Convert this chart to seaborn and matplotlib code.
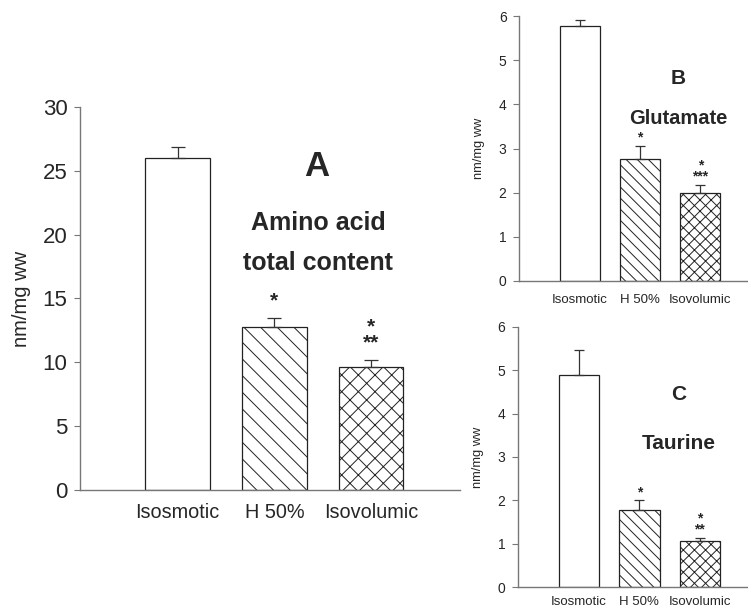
import matplotlib
matplotlib.use("Agg")
import matplotlib.pyplot as plt
import seaborn as sns
import pandas as pd

groups = ["Isosmotic", "H 50%", "Isovolumic"]

total_mean = [26.0, 12.8, 9.65]
total_err = [0.9, 0.7, 0.55]
total_stars = ["", "*", "*\n**"]

glu_mean = [5.77, 2.77, 2.0]
glu_err = [0.14, 0.29, 0.18]
glu_stars = ["", "*", "*\n***"]

tau_mean = [4.89, 1.77, 1.07]
tau_err = [0.59, 0.23, 0.07]
tau_stars = ["", "*", "*\n**"]

sns.set_style("white")
plt.rcParams["font.family"] = ["Liberation Sans", "DejaVu Sans"]
plt.rcParams["hatch.linewidth"] = 0.7
plt.rcParams["hatch.color"] = "#333333"

fig = plt.figure(figsize=(7.48, 6.09), dpi=100)
axA = fig.add_axes([0.107, 0.1954, 0.508, 0.629])
axB = fig.add_axes([0.694, 0.5386, 0.305, 0.435])
axC = fig.add_axes([0.6925, 0.0361, 0.306, 0.427])


def panel(ax, means, errs, stars, ymax, hatches, tick_fs, xtick_fs, lab_fs,
          star_fs, star_gap, cap, xright, xpad=6):
    df = pd.DataFrame({"group": groups, "value": means})
    sns.barplot(data=df, x="group", y="value", color="white", width=0.67,
                edgecolor="#222222", linewidth=0.9, ax=ax)
    for patch, h in zip(ax.patches, hatches):
        patch.set_hatch(h)
    xs = [p.get_x() + p.get_width() / 2 for p in ax.patches]
    ax.errorbar(xs, means, yerr=[[0] * 3, errs], fmt="none", ecolor="#333333",
                elinewidth=0.9, capsize=cap, capthick=0.9)
    for x, m, e, s in zip(xs, means, errs, stars):
        if s:
            ax.text(x, m + e + star_gap, s, ha="center", va="bottom",
                    fontsize=star_fs, fontweight="bold", linespacing=0.75)
    ax.set_xlim(-1.01, xright)
    ax.set_ylim(0, ymax)
    ax.set_xlabel("")
    ax.set_ylabel("nm/mg ww", fontsize=lab_fs)
    sns.despine(ax=ax)
    for sp in ("left", "bottom"):
        ax.spines[sp].set_color("#777777")
        ax.spines[sp].set_linewidth(1.0)
    ax.tick_params(axis="y", direction="out", left=True, length=4,
                   color="#777777", labelsize=tick_fs, pad=5)
    ax.tick_params(axis="x", bottom=False, labelsize=xtick_fs, pad=xpad)


panel(axA, total_mean, total_err, total_stars, 30, ["", "\\\\", "xx"],
      16, 14.3, 14.5, 15, 0.6, 5, 2.92)
axA.set_yticks(range(0, 31, 5))
axA.yaxis.set_label_coords(-0.128, 0.5)
axA.text(1.44, 25.3, "A", ha="center", va="center", fontsize=25, fontweight="bold")
axA.text(1.45, 20.9, "Amino acid", ha="center", va="center", fontsize=18, fontweight="bold")
axA.text(1.45, 17.8, "total content", ha="center", va="center", fontsize=18, fontweight="bold")

panel(axB, glu_mean, glu_err, glu_stars, 6, ["", "\\\\\\", "xxx"],
      10, 9.5, 9.3, 10, 0.03, 3.5, 2.78)
axB.set_yticks(range(0, 7))
axB.yaxis.set_label_coords(-0.15, 0.5)
axB.text(1.63, 4.58, "B", ha="center", va="center", fontsize=15, fontweight="bold")
axB.text(1.63, 3.68, "Glutamate", ha="center", va="center", fontsize=14.5, fontweight="bold")

panel(axC, tau_mean, tau_err, tau_stars, 6, ["", "\\\\\\", "xxx"],
      10, 9.5, 9.3, 10, 0.03, 3.5, 2.78, xpad=3)
axC.set_yticks(range(0, 7))
axC.yaxis.set_label_coords(-0.15, 0.5)
axC.text(1.65, 4.45, "C", ha="center", va="center", fontsize=15, fontweight="bold")
axC.text(1.65, 3.3, "Taurine", ha="center", va="center", fontsize=15, fontweight="bold")

fig.savefig("out.png", dpi=100)
